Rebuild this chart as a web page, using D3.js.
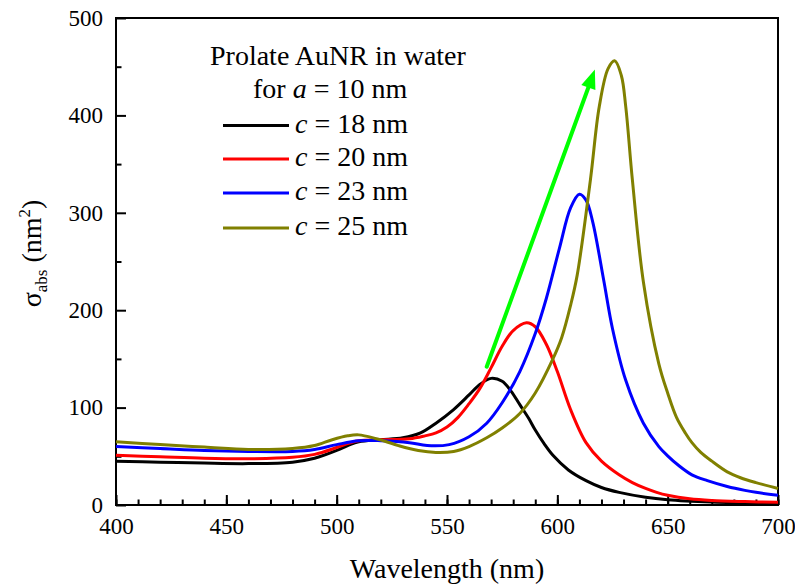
<!DOCTYPE html>
<html>
<head>
<meta charset="utf-8">
<script src="https://cdn.jsdelivr.net/npm/d3@7"></script>
<style>
  body { margin: 0; background: #fff; }
  text { font-family: 'Liberation Serif', 'Times New Roman', serif; fill: #000; }
</style>
</head>
<body>
<div id="canvas"></div>
<script>
// absorption cross-section (nm^2), [wavelength, value]
var c18 = [[400, 45], [420, 44], [440, 43], [460, 42.5], [480, 44], [490, 48], [500, 56], [505, 61],
  [510, 65], [520, 67], [530, 69], [538, 74], [545, 84], [553, 98], [560, 113], [565, 124], [570, 130],
  [575, 127], [579, 117], [583, 103], [587, 89], [590, 77], [594, 63], [598, 51], [605, 36], [613, 25],
  [620, 18], [628, 13], [640, 8], [650, 5.5], [670, 3], [700, 1]]
var c20 = [[400, 51], [420, 49.5], [440, 48], [460, 47.5], [480, 49], [490, 52], [500, 59], [505, 63],
  [510, 66], [520, 67], [533, 68], [540, 71], [545, 74], [550, 80], [555, 90], [560, 104], [565, 120],
  [570, 141], [575, 163], [580, 179], [586, 187], [590, 183], [595, 165], [600, 137], [606, 98],
  [613, 64], [620, 45], [628, 31], [634, 23], [640, 17], [645, 13], [650, 10], [660, 6.3], [670, 4.6],
  [685, 3.5], [700, 2.8]]
var c23 = [[400, 60], [420, 58], [440, 56], [460, 55], [480, 55], [490, 57], [500, 62], [510, 66],
  [520, 66], [533, 64], [541, 61], [551, 62], [560, 70], [568, 84], [575, 105], [583, 137], [590, 176],
  [595, 212], [601, 264], [606, 305], [610, 319], [613, 313], [616, 291], [621, 231], [625, 181],
  [631, 128], [639, 84], [646, 60], [650, 50.5], [655, 40.5], [661, 31], [668, 25], [677, 19],
  [685, 15], [690, 13], [700, 10]]
var c25 = [[400, 65], [420, 62], [440, 59.5], [460, 57], [480, 58], [490, 61], [498, 67], [505, 71],
  [510, 72], [518, 68], [528, 61], [537, 56], [545, 54], [553, 55], [560, 60], [568, 69], [575, 79],
  [583, 94], [590, 115], [598, 150], [602, 172], [606, 205], [609, 236], [615, 334], [619, 409],
  [623, 448], [626, 456], [629, 441], [631, 409], [634, 334], [639, 229], [646, 145], [650, 115],
  [654, 90], [658, 74], [661, 64], [665, 54], [670, 45], [677, 34], [683, 28], [690, 23], [700, 17]]

var seriesNames = ['18', '20', '23', '25']
var seriesColors = ['#000000', '#ff0000', '#0000ff', '#808000']
var seriesData = [c18, c20, c23, c25]

var xTicks = [400, 450, 500, 550, 600, 650, 700]
var yTicks = [0, 100, 200, 300, 400, 500]

// green trend arrow, [wavelength, value]
var arrow = [[568, 142], [617, 447]]

var margin = {top: 18, right: 17, bottom: 81, left: 116},
  width = 795 - margin.left - margin.right,
  height = 586 - margin.top - margin.bottom

var svg = d3.select('#canvas')
  .append('svg')
  .attr('width', 795)
  .attr('height', 586)
  .append('g')
  .attr('transform', 'translate(' + margin.left + ',' + margin.top + ')')

var x = d3.scaleLinear().domain([400, 700]).range([0, width])
var y = d3.scaleLinear().domain([0, 500]).range([height, 0])

// minor ticks
svg.append('g')
  .attr('transform', 'translate(0,' + height + ')')
  .call(d3.axisBottom(x).tickValues(d3.range(400, 701, 10)).tickSize(-5.5).tickSizeOuter(0).tickFormat(''))
svg.append('g')
  .call(d3.axisLeft(y).tickValues(d3.range(50, 500, 100)).tickSize(-5.5).tickSizeOuter(0).tickFormat(''))

// major ticks
svg.append('g')
  .attr('transform', 'translate(0,' + height + ')')
  .call(d3.axisBottom(x).tickValues(xTicks).tickSize(-10).tickSizeOuter(0).tickPadding(13))
svg.append('g')
  .call(d3.axisLeft(y).tickValues(yTicks).tickSize(-10).tickSizeOuter(0).tickPadding(13))

svg.selectAll('.tick line').attr('stroke-width', 2)
svg.selectAll('.domain').remove()
svg.selectAll('.tick text')
  .attr('font-family', null)
  .style('font-family', "'Liberation Serif', serif")
  .style('font-size', '23px')

svg.append('rect')
  .attr('width', width)
  .attr('height', height)
  .attr('fill', 'none')
  .attr('stroke', '#000')
  .attr('stroke-width', 2)

// curves
var line = d3.line()
  .x(d => x(d[0]))
  .y(d => y(d[1]))
  .curve(d3.curveCatmullRom.alpha(0.5))

svg.append('g')
  .selectAll('path')
  .data(seriesData)
  .enter()
  .append('path')
  .attr('d', line)
  .attr('fill', 'none')
  .attr('stroke', (d, i) => seriesColors[i])
  .attr('stroke-width', 3)

// arrow
var ax0 = x(arrow[0][0]), ay0 = y(arrow[0][1])
var ax1 = x(arrow[1][0]), ay1 = y(arrow[1][1])
var ang = Math.atan2(ay1 - ay0, ax1 - ax0)
var headLen = 19, headW = 7.5
var bx = ax1 - headLen * Math.cos(ang), by = ay1 - headLen * Math.sin(ang)
svg.append('line')
  .attr('x1', ax0).attr('y1', ay0)
  .attr('x2', bx).attr('y2', by)
  .attr('stroke', '#00ff00')
  .attr('stroke-width', 4)
  .attr('stroke-linecap', 'round')
svg.append('path')
  .attr('d', 'M' + ax1 + ',' + ay1 +
    'L' + (bx + headW * Math.sin(ang)) + ',' + (by - headW * Math.cos(ang)) +
    'L' + (bx - headW * Math.sin(ang)) + ',' + (by + headW * Math.cos(ang)) + 'Z')
  .attr('fill', '#00ff00')

// legend
var legend = svg.append('g').attr('transform', 'translate(' + (-margin.left) + ',' + (-margin.top) + ')')
legend.append('text')
  .attr('x', 210).attr('y', 65)
  .style('font-size', '28px')
  .text('Prolate AuNR in water')
var l2 = legend.append('text')
  .attr('x', 253).attr('y', 98)
  .style('font-size', '28px')
l2.append('tspan').text('for ')
l2.append('tspan').style('font-style', 'italic').text('a')
l2.append('tspan').text(' = 10 nm')

var rowY = [125.5, 159, 193, 228]
seriesNames.forEach((name, i) => {
  legend.append('line')
    .attr('x1', 223).attr('x2', 289)
    .attr('y1', rowY[i]).attr('y2', rowY[i])
    .attr('stroke', seriesColors[i])
    .attr('stroke-width', 3)
  var t = legend.append('text')
    .attr('x', 295).attr('y', rowY[i] + 7)
    .style('font-size', '28px')
  t.append('tspan').style('font-style', 'italic').text('c')
  t.append('tspan').text(' = ' + name + ' nm')
})

// axis titles
svg.append('text')
  .attr('x', width / 2)
  .attr('y', height + 73)
  .attr('text-anchor', 'middle')
  .style('font-size', '28px')
  .text('Wavelength (nm)')

var yt = svg.append('text')
  .attr('transform', 'translate(' + (41 - margin.left) + ',' + (height / 2 - 8) + ') rotate(-90)')
  .attr('text-anchor', 'middle')
  .style('font-size', '28px')
yt.append('tspan').text('\u03c3')
yt.append('tspan').attr('dy', 6).style('font-size', '17px').text('abs')
yt.append('tspan').attr('dy', -6).text(' (nm')
yt.append('tspan').attr('dy', -11).style('font-size', '17px').text('2')
yt.append('tspan').attr('dy', 11).text(')')
</script>
</body>
</html>
